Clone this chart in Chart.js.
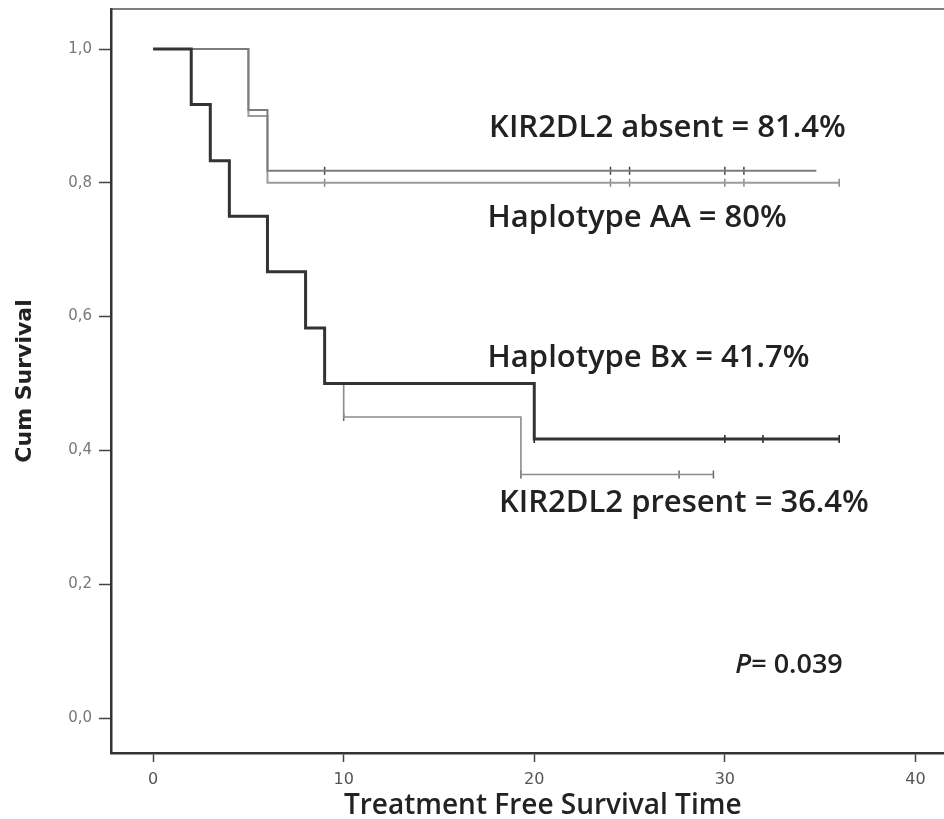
<!DOCTYPE html>
<html>
<head>
<meta charset="utf-8">
<script src="https://cdn.jsdelivr.net/npm/chart.js@4.4.1/dist/chart.umd.min.js"></script>
<style>
	html, body { margin: 0; padding: 0; background: #fff; overflow: hidden; }
	#wrap { width: 980px; height: 819px; }
</style>
</head>
<body>
<div id="wrap"><canvas id="chart" width="980" height="819"></canvas></div>
<script>
// Kaplan-Meier steps (time, cum survival)
const bxTimes = [0, 2, 3, 4, 6, 8, 9, 20, 36];
const bxSurv = [1, 0.917, 0.833, 0.75, 0.667, 0.583, 0.5, 0.417, 0.417];
const bxCensor = [20, 30, 32, 36];

const presentTimes = [0, 2, 3, 4, 6, 8, 9, 10, 19.3, 29.4];
const presentSurv = [1, 0.917, 0.833, 0.75, 0.667, 0.583, 0.5, 0.45, 0.364, 0.364];
const presentCensor = [10, 19.3, 27.6, 29.4];

const absentTimes = [0, 5, 6, 34.8];
const absentSurv = [1, 0.909, 0.818, 0.818];
const absentCensor = [9, 24, 25, 30, 31];

const aaTimes = [0, 5, 6, 36];
const aaSurv = [1, 0.9, 0.8, 0.8];
const aaCensor = [9, 24, 25, 30, 31, 36];

const xTicks = [0, 10, 20, 30, 40];
const yTicks = [0, 0.2, 0.4, 0.6, 0.8, 1.0];

const labelTexts = ['KIR2DL2 absent = 81.4%', 'Haplotype AA = 80%', 'Haplotype Bx = 41.7%', 'KIR2DL2 present = 36.4%'];
const pValue = '0.039';

// where the labels sit, in data units (left edge, baseline)
const labelAnchors = [[17.63, 0.868], [17.55, 0.734], [17.55, 0.525], [18.15, 0.308]];
const pAnchor = [30.55, 0.067];

function steps(times, surv)
{
	return times.map((t, i) => ({x: t, y: surv[i]}));
}

// survival value at time t for a step curve
function survAt(times, surv, t)
{
	let v = surv[0];
	for (let i = 0; i < times.length; i++)
	{
		if (times[i] <= t) v = surv[i];
	}
	return v;
}

function censorPoints(times, surv, marks)
{
	return marks.map(t => ({x: t, y: survAt(times, surv, t)}));
}

function curve(data, color, width)
{
	return {
		data: data,
		stepped: 'before',
		borderColor: color,
		borderWidth: width,
		pointRadius: 0,
		fill: false,
	};
}

function marks(data, color)
{
	return {
		data: data,
		showLine: false,
		pointStyle: 'line',
		rotation: 90,
		pointRadius: 4,
		borderColor: color,
		backgroundColor: color,
		pointBorderWidth: 1.5,
	};
}

const textFont = '600 31px "Open Sans"';

const textPlugin = {
	id: 'kmText',
	afterDraw(chart)
	{
		const {ctx, chartArea, scales} = chart;
		ctx.save();

		// frame top
		ctx.strokeStyle = '#555';
		ctx.lineWidth = 1.5;
		ctx.beginPath();
		ctx.moveTo(chartArea.left, chartArea.top);
		ctx.lineTo(chartArea.right, chartArea.top);
		ctx.stroke();

		ctx.fillStyle = '#222';
		ctx.textBaseline = 'alphabetic';
		ctx.textAlign = 'left';
		ctx.font = textFont;
		labelTexts.forEach((t, i) => {
			const x = scales.x.getPixelForValue(labelAnchors[i][0]);
			const y = scales.y.getPixelForValue(labelAnchors[i][1]);
			ctx.fillText(t, x, y);
		});

		const px = scales.x.getPixelForValue(pAnchor[0]);
		const py = scales.y.getPixelForValue(pAnchor[1]);
		ctx.font = 'italic 600 27px "Open Sans"';
		ctx.fillText('P', px, py);
		const w = ctx.measureText('P').width;
		ctx.font = '600 27px "Open Sans"';
		ctx.fillText('= ' + pValue, px + w, py);
		ctx.restore();
	}
};

new Chart(document.getElementById('chart'), {
	type: 'line',
	data: {
		datasets: [
			curve(steps(bxTimes, bxSurv), '#333', 3),
			curve(steps(presentTimes, presentSurv), '#8c8c8c', 1.6),
			curve(steps(absentTimes, absentSurv), '#7c7c7c', 2),
			curve(steps(aaTimes, aaSurv), '#9c9c9c', 2),
			marks(censorPoints(bxTimes, bxSurv, bxCensor), '#222'),
			marks(censorPoints(presentTimes, presentSurv, presentCensor), '#666'),
			marks(censorPoints(absentTimes, absentSurv, absentCensor), '#444'),
			marks(censorPoints(aaTimes, aaSurv, aaCensor), '#888'),
		]
	},
	options: {
		responsive: false,
		devicePixelRatio: 1,
		animation: false,
		layout: {padding: {top: 9, right: 2, left: 0, bottom: 0}},
		plugins: {
			legend: {display: false},
			tooltip: {enabled: false},
		},
		scales: {
			x: {
				type: 'linear',
				min: -2.21,
				max: 43.1,
				afterBuildTicks: (scale) => { scale.ticks = xTicks.map(v => ({value: v})); },
				afterFit: (scale) => { scale.height = 66; },
				grid: {display: true, drawOnChartArea: false, drawTicks: true, tickLength: 9, tickWidth: 1.5, tickColor: '#444'},
				border: {display: true, color: '#333', width: 2.5},
				ticks: {color: '#555', padding: 8, font: {family: 'DejaVu Sans', size: 16}, maxRotation: 0},
				title: {
					display: true,
					text: 'Treatment Free Survival Time',
					color: '#222',
					font: {family: 'Open Sans', size: 28, weight: '600', lineHeight: 0.9},
					padding: {top: 0, bottom: 0},
				},
			},
			y: {
				type: 'linear',
				min: -0.0523,
				max: 1.0598,
				afterBuildTicks: (scale) => { scale.ticks = yTicks.map(v => ({value: v})); },
				afterFit: (scale) => {
					scale.width = 111;
					scale.paddingTop = 0;
					scale.paddingBottom = 0;
				},
				grid: {display: true, drawOnChartArea: false, drawTicks: true, tickLength: 12, tickWidth: 1.5, tickColor: '#444'},
				border: {display: true, color: '#333', width: 2.5},
				ticks: {
					color: '#777',
					padding: 7,
					font: {family: 'DejaVu Sans', size: 15},
					callback: (v) => v.toFixed(1).replace('.', ','),
				},
				title: {
					display: true,
					text: 'Cum Survival',
					color: '#222',
					font: {family: 'DejaVu Sans', size: 22, weight: 'bold', lineHeight: 1.2},
					padding: {top: 12, bottom: 0},
				},
			},
		},
	},
	plugins: [textPlugin],
});
</script>
</body>
</html>
